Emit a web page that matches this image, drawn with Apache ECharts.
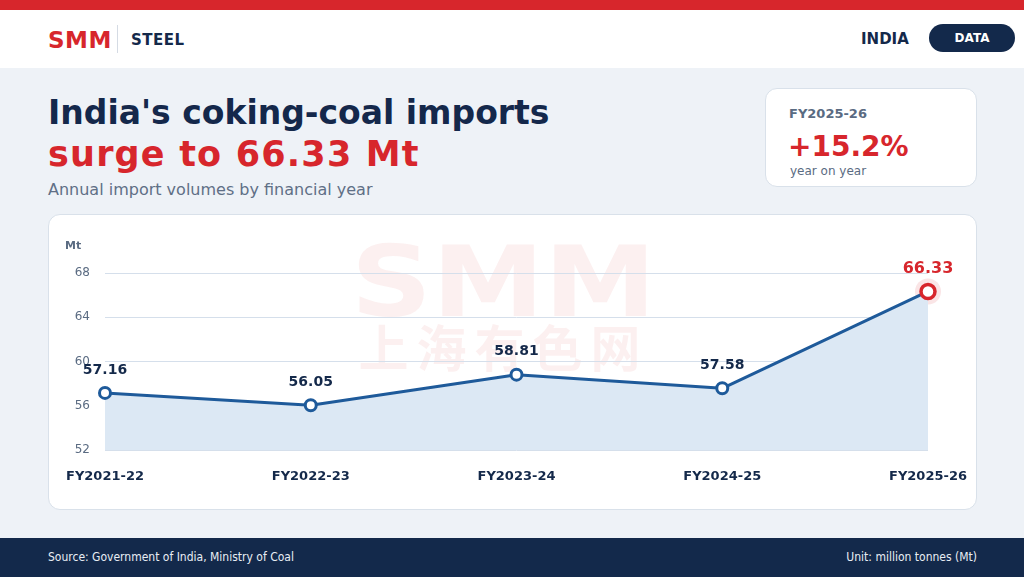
<!DOCTYPE html>
<html><head><meta charset="utf-8">
<script src="https://cdn.jsdelivr.net/npm/echarts@6/dist/echarts.min.js"></script>
<style>
html,body{margin:0;padding:0;width:1024px;height:577px;overflow:hidden;background:#eef2f7;font-family:"DejaVu Sans",sans-serif;}
.abs{position:absolute;}
#topbar{left:0;top:0;width:1024px;height:10px;background:#d7262c;}
#header{left:0;top:10px;width:1024px;height:58px;background:#fff;}
#smm{left:48px;top:27px;font-size:23px;font-weight:bold;color:#d7262c;line-height:26px;letter-spacing:0.5px;}
#div{left:117px;top:25px;width:1px;height:28px;background:#d5dbe4;}
#steel{left:131px;top:31px;font-size:15px;font-weight:bold;color:#14294a;letter-spacing:0.5px;line-height:18px;}
#india{left:861px;top:30px;font-size:15px;font-weight:bold;color:#14294a;letter-spacing:0px;line-height:18px;}
#pill{left:929px;top:24px;width:86px;height:28px;border-radius:14px;background:#13294b;color:#fff;font-size:12px;font-weight:bold;text-align:center;line-height:28px;}
#t1{left:48px;top:93px;font-size:33px;font-weight:bold;color:#14284b;line-height:40px;white-space:nowrap;}
#t2{left:48px;top:134px;font-size:35px;font-weight:bold;color:#d7262c;line-height:40px;white-space:nowrap;letter-spacing:1.2px;}
#sub{left:48px;top:180px;font-size:16px;color:#5f6f86;line-height:20px;white-space:nowrap;}
#kpi{left:765px;top:88px;width:210px;height:97px;background:#fff;border:1px solid #d9e1ea;border-radius:12px;}
#kl{left:789px;top:106px;font-size:13px;font-weight:bold;color:#5a6b82;line-height:16px;}
#kv{left:788px;top:130px;font-size:28px;font-weight:bold;color:#d7262c;line-height:34px;}
#ks{left:790px;top:164px;font-size:12px;color:#5a6b82;line-height:15px;}
#card{left:48px;top:214px;width:927px;height:294px;background:#fff;border:1px solid #d9e1ea;border-radius:12px;}
#wm1{left:352px;top:234px;width:303px;text-align:center;font-size:98px;font-weight:bold;color:rgba(215,38,44,0.07);line-height:96px;transform:scaleX(1.15);font-family:"DejaVu Sans",sans-serif;}
#wm2{left:352px;top:318px;width:303px;text-align:center;font-size:50px;font-weight:bold;color:rgba(215,38,44,0.07);line-height:54px;letter-spacing:8px;font-family:"Noto Sans CJK SC",sans-serif;}
#chart{left:48px;top:214px;width:929px;height:296px;}
#footer{left:0;top:538px;width:1024px;height:39px;background:#13294b;}
#fl{left:48px;top:550px;font-size:12px;color:#e8edf4;line-height:15px;font-family:"DejaVu Sans Condensed","DejaVu Sans",sans-serif;}
#fr{right:47px;top:550px;font-size:12px;color:#e8edf4;line-height:15px;font-family:"DejaVu Sans Condensed","DejaVu Sans",sans-serif;}
</style></head>
<body>
<div id="topbar" class="abs"></div>
<div id="header" class="abs"></div>
<div id="smm" class="abs">SMM</div>
<div id="div" class="abs"></div>
<div id="steel" class="abs">STEEL</div>
<div id="india" class="abs">INDIA</div>
<div id="pill" class="abs">DATA</div>
<div id="t1" class="abs">India's coking-coal imports</div>
<div id="t2" class="abs">surge to 66.33 Mt</div>
<div id="sub" class="abs">Annual import volumes by financial year</div>
<div id="kpi" class="abs"></div>
<div id="kl" class="abs">FY2025-26</div>
<div id="kv" class="abs">+15.2%</div>
<div id="ks" class="abs">year on year</div>
<div id="card" class="abs"></div>
<div id="wm1" class="abs">SMM</div>
<div id="wm2" class="abs">上海有色网</div>
<div id="chart" class="abs"></div>
<div id="footer" class="abs"></div>
<div id="fl" class="abs">Source: Government of India, Ministry of Coal</div>
<div id="fr" class="abs">Unit: million tonnes (Mt)</div>
<script>
var categories = ["FY2021-22","FY2022-23","FY2023-24","FY2024-25","FY2025-26"];
var imports = [57.16, 56.05, 58.81, 57.58, 66.33];
var yTicks = {min: 52, max: 68, interval: 4};

var last = imports.length - 1;
var lineData = imports.map(function(v, i){
  if (i === last) {
    return {value: v, symbolSize: 14,
      itemStyle: {color: '#fff', borderColor: '#d7262c', borderWidth: 3.5},
      label: {color: '#d7262c', fontSize: 16, distance: 6}};
  }
  return v;
});

var chart = echarts.init(document.getElementById('chart'), null, {renderer: 'canvas'});
chart.setOption({
  backgroundColor: 'transparent',
  animation: false,
  textStyle: {fontFamily: 'DejaVu Sans'},
  grid: {left: 57, right: 49, top: 59, bottom: 60},
  graphic: [{type: 'text', left: 17, top: 27,
    style: {text: 'Mt', fill: '#5a6b82', font: 'bold 11px "DejaVu Sans"'}}],
  xAxis: {type: 'category', data: categories, boundaryGap: false,
    axisLine: {show: false}, axisTick: {show: false},
    axisLabel: {color: '#14294a', fontSize: 13, fontWeight: 'bold', margin: 20}},
  yAxis: {type: 'value', min: yTicks.min, max: yTicks.max, interval: yTicks.interval,
    axisLine: {show: false}, axisTick: {show: false},
    axisLabel: {color: '#5a6b82', fontSize: 12, margin: 15, lineHeight: 18, verticalAlign: 'middle', padding: [4, 0, 0, 0]},
    splitLine: {lineStyle: {color: '#d5dfeb', width: 1}}},
  series: [
    {type: 'scatter', data: [[categories[last], imports[last]]], symbolSize: 26,
      itemStyle: {color: 'rgba(215,38,44,0.15)'}, z: 1, silent: true},
    {type: 'line', data: lineData, z: 3,
      symbol: 'circle', symbolSize: 11, showAllSymbol: true,
      lineStyle: {color: '#1e5a9a', width: 3},
      itemStyle: {color: '#fff', borderColor: '#1e5a9a', borderWidth: 3},
      areaStyle: {color: '#dce8f4', opacity: 1},
      label: {show: true, position: 'top', distance: 9, color: '#14294a',
        fontSize: 14, fontWeight: 'bold', formatter: function(p){ return p.value.toFixed(2); }}}
  ]
});
</script>
</body></html>
